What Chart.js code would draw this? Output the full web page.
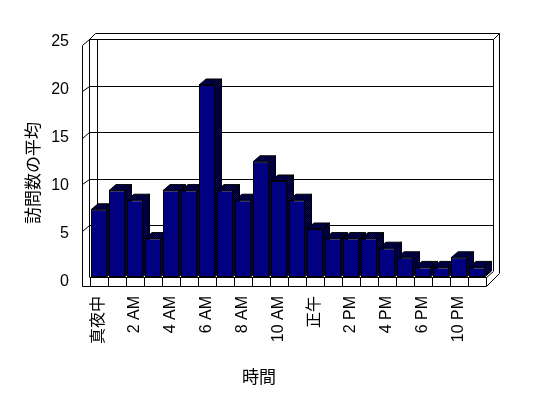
<!DOCTYPE html>
<html lang="ja">
<head>
<meta charset="UTF-8" />
<title>訪問数の平均</title>
<script src="https://cdn.jsdelivr.net/npm/chart.js"></script>
<style>
  body { margin: 0; background: #fff; }
  canvas { display: block; }
</style>
</head>
<body>
<canvas id="visitChart" width="548" height="398"></canvas>
<script>
const hours = ["真夜中", "1 AM", "2 AM", "3 AM", "4 AM", "5 AM", "6 AM", "7 AM",
  "8 AM", "9 AM", "10 AM", "11 AM", "正午", "1 PM", "2 PM", "3 PM", "4 PM",
  "5 PM", "6 PM", "7 PM", "10 PM", "11 PM"];
const visits = [7, 9, 8, 4, 9, 9, 20, 9, 8, 12, 10, 8, 5, 4, 4, 4, 3, 2, 1, 1, 2, 1];
const yTicks = [0, 5, 10, 15, 20, 25];
const xTitle = "時間";
const yTitle = "訪問数の平均";

const FONT = '"Liberation Sans", "Noto Sans CJK JP", sans-serif';
const CJK = '"Noto Sans CJK JP", sans-serif';
const NAVY = "#000080";

// 2x2 black / navy dither used on the side and top faces
const dither = (() => {
  const c = document.createElement("canvas");
  c.width = c.height = 2;
  const g = c.getContext("2d");
  g.fillStyle = NAVY;
  g.fillRect(0, 0, 2, 2);
  g.fillStyle = "#000";
  g.fillRect(0, 0, 1, 1);
  g.fillRect(1, 1, 1, 1);
  return c;
})();

function line(ctx, x1, y1, x2, y2) {
  ctx.beginPath();
  ctx.moveTo(x1, y1);
  ctx.lineTo(x2, y2);
  ctx.stroke();
}

function poly(ctx, pts) {
  ctx.beginPath();
  ctx.moveTo(pts[0][0], pts[0][1]);
  pts.slice(1).forEach(p => ctx.lineTo(p[0], p[1]));
  ctx.closePath();
  ctx.fill();
  ctx.stroke();
}

// walls, floor and the depth faces of the columns (Excel style 3D look)
const frame3d = {
  id: "frame3d",
  beforeDatasetsDraw(chart) {
    const ctx = chart.ctx;
    const ys = chart.scales.y;
    const { left: L, right: R, top: T, bottom: B } = chart.chartArea;
    const back = v => Math.round(B - 5 + (ys.getPixelForValue(v) - B) * 0.97) + 0.5;
    const front = v => Math.round(B + (ys.getPixelForValue(v) - B) * 0.967) + 0.5;

    ctx.save();
    ctx.strokeStyle = "#000";
    ctx.lineWidth = 1;

    // left wall
    line(ctx, L - 7.5, front(25), L - 7.5, B + 9.5);
    line(ctx, L - 0.5, back(25), L - 0.5, B);
    line(ctx, L - 0.5, back(25), L + 5.5, T - 3.5);
    // back wall
    line(ctx, L + 5.5, T - 3.5, R + 13.5, T - 3.5);
    line(ctx, R + 13.5, T - 3.5, R + 13.5, B - 3.5);
    line(ctx, R + 7.5, back(25), R + 13.5, T - 3.5);
    line(ctx, R + 7.5, back(25), R + 7.5, B - 6);
    line(ctx, L + 7.5, back(25), L + 7.5, B);
    yTicks.slice(1).forEach(v => {
      line(ctx, L - 7.5, front(v), L - 0.5, back(v));
      line(ctx, L - 0.5, back(v), R + 7.5, back(v));
    });
    // floor
    line(ctx, L - 7.5, B + 9.5, R + 0.5, B + 9.5);
    line(ctx, L - 0.5, B + 0.5, R + 0.5, B + 0.5);
    line(ctx, R + 0.5, B + 9.5, R + 13.5, B - 3.5);
    line(ctx, R + 0.5, B + 0.5, R + 7.5, B - 5.5);

    // side and top of every column, left to right
    const pat = ctx.createPattern(dither, "repeat");
    ctx.fillStyle = pat;
    chart.getDatasetMeta(0).data.forEach(bar => {
      const { x, y, base, width } = bar.getProps(["x", "y", "base", "width"], true);
      const l = x - width / 2, r = x + width / 2 - 0.5;
      poly(ctx, [[r, y], [r + 7, y - 6], [r + 7, base - 6], [r, base]]);
      poly(ctx, [[l, y], [l + 7, y - 6], [r + 7, y - 6], [r, y]]);
    });
    ctx.restore();
  },
  afterDraw(chart) {
    const ctx = chart.ctx;
    ctx.save();
    ctx.fillStyle = "#000";
    ctx.font = "17px " + CJK;
    ctx.textAlign = "center";
    ctx.textBaseline = "middle";
    ctx.fillText(xTitle, 259, 377);
    ctx.translate(33, 173);
    ctx.rotate(-Math.PI / 2);
    ctx.fillText(yTitle, 0, 0);
    ctx.restore();
  }
};

new Chart(document.getElementById("visitChart"), {
  type: "bar",
  data: {
    labels: hours,
    datasets: [{
      data: visits,
      backgroundColor: NAVY,
      borderColor: "#000",
      borderWidth: 1,
      borderSkipped: false,
      categoryPercentage: 1,
      barPercentage: 0.889
    }]
  },
  options: {
    responsive: false,
    animation: false,
    devicePixelRatio: 1,
    layout: { padding: { top: 37, right: 62, left: 0, bottom: 0 } },
    plugins: { legend: { display: false }, tooltip: { enabled: false } },
    scales: {
      x: {
        grid: { display: true, offset: true, drawOnChartArea: false, drawTicks: true, tickLength: 9, color: "#000" },
        border: { display: false },
        ticks: {
          autoSkip: false,
          maxRotation: 90,
          minRotation: 90,
          padding: 10,
          color: "#000",
          font: { family: FONT, size: 16 },
          callback(val, i) { return i % 2 === 0 ? this.getLabelForValue(val) : ""; }
        },
        afterFit(scale) { scale.height = 121; }
      },
      y: {
        min: 0,
        max: 25,
        grid: { display: false, drawTicks: false },
        border: { display: false },
        ticks: {
          stepSize: 5,
          padding: 21,
          labelOffset: 5,
          color: "#000",
          font: { family: FONT, size: 16 }
        },
        afterFit(scale) { scale.width = 90; }
      }
    }
  },
  plugins: [frame3d]
});
</script>
</body>
</html>
